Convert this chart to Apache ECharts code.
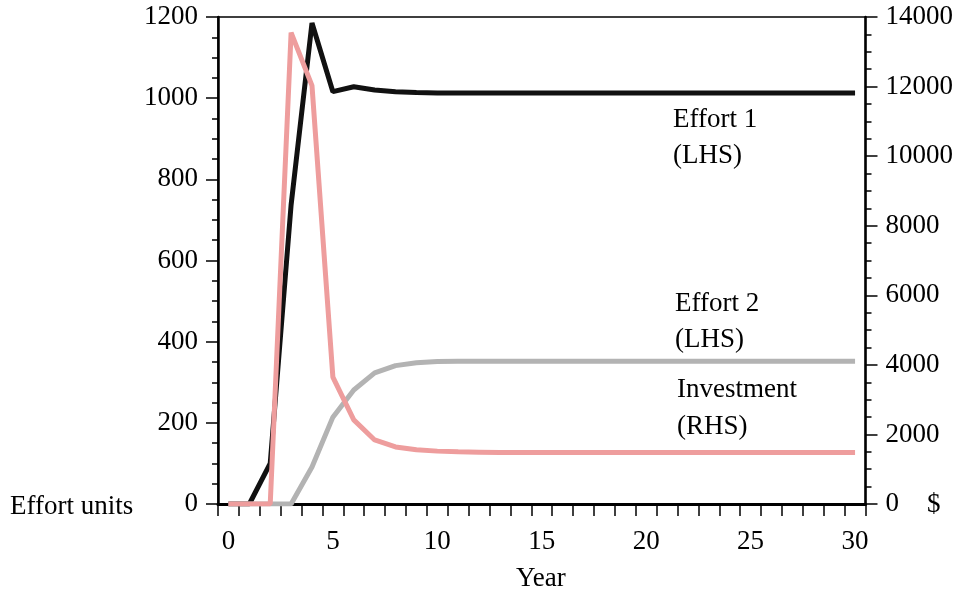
<!DOCTYPE html>
<html>
<head>
<meta charset="utf-8">
<script src="https://cdn.jsdelivr.net/npm/echarts@6/dist/echarts.min.js"></script>
<style>
  html, body { margin: 0; padding: 0; background: #fff; }
  #chart { width: 956px; height: 593px; }
</style>
</head>
<body>
<div id="chart"></div>
<script>
  // years 0..30 on a category axis
  const years = ['0','1','2','3','4','5','6','7','8','9','10','11','12','13','14','15',
    '16','17','18','19','20','21','22','23','24','25','26','27','28','29','30']

  // Effort 1 (LHS)
  const effort1 = [0, 0, 100, 737, 1185, 1016, 1028, 1020, 1016, 1014, 1013,
    1013, 1013, 1013, 1013, 1013, 1013, 1013, 1013, 1013, 1013,
    1013, 1013, 1013, 1013, 1013, 1013, 1013, 1013, 1013, 1013]

  // Effort 2 (LHS)
  const effort2 = [0, 0, 0, 0, 91, 214, 281, 323, 341, 348, 351,
    352, 352, 352, 352, 352, 352, 352, 352, 352, 352,
    352, 352, 352, 352, 352, 352, 352, 352, 352, 352]

  // Investment (RHS, $)
  const investment = [0, 0, 0, 13550, 12025, 3650, 2417, 1841, 1640, 1560, 1520,
    1500, 1490, 1480, 1480, 1480, 1480, 1480, 1480, 1480, 1480,
    1480, 1480, 1480, 1480, 1480, 1480, 1480, 1480, 1480, 1480]

  const font = 'Liberation Serif'
  const fs = 27

  let chart = echarts.init(document.getElementById('chart'))

  const yAxisBase = (max, interval, pos) => ({
    type: 'value',
    position: pos,
    min: 0,
    max: max,
    interval: interval,
    splitLine: { show: false },
    axisLine: { show: true, lineStyle: { color: '#000', width: 2.5 } },
    axisTick: { show: true, inside: false, length: 12, lineStyle: { color: '#000', width: 1.5 } },
    minorTick: { show: true, splitNumber: 4, length: 6, lineStyle: { color: '#000', width: 1.5 } },
    axisLabel: { color: '#000', fontFamily: font, fontSize: fs, margin: 20, formatter: v => String(v) }
  })

  const note = (text, x, y) => ({
    type: 'text', left: x, top: y - fs / 2,
    style: { text: text, font: fs + 'px ' + font, fill: '#000' }
  })

  let option = {
    animation: false,
    backgroundColor: '#fff',
    grid: {
      left: 218, right: 90, top: 17, bottom: 89,
      show: true, borderColor: '#000', borderWidth: 1.5
    },
    xAxis: {
      type: 'category',
      data: years,
      boundaryGap: true,
      axisLine: { show: true, lineStyle: { color: '#000', width: 3 } },
      axisTick: { show: true, interval: 0, alignWithLabel: false, inside: false, length: 12,
        lineStyle: { color: '#000', width: 1.5 } },
      axisLabel: { interval: 4, color: '#000', fontFamily: font, fontSize: fs, margin: 24 },
      splitLine: { show: false }
    },
    yAxis: [
      yAxisBase(1200, 200, 'left'),
      yAxisBase(14000, 2000, 'right')
    ],
    series: [
      {
        name: 'Effort 1', type: 'line', data: effort1, yAxisIndex: 0,
        symbol: 'none', z: 2,
        lineStyle: { color: '#111111', width: 5 }
      },
      {
        name: 'Effort 2', type: 'line', data: effort2, yAxisIndex: 0,
        symbol: 'none', z: 3,
        lineStyle: { color: '#B3B3B3', width: 5 }
      },
      {
        name: 'Investment', type: 'line', data: investment, yAxisIndex: 1,
        symbol: 'none', z: 4,
        lineStyle: { color: '#EE9D9D', width: 5 }
      }
    ],
    graphic: [
      note('Effort 1', 673, 120),
      note('(LHS)', 673, 156),
      note('Effort 2', 675, 304),
      note('(LHS)', 675, 340),
      note('Investment', 677, 390),
      note('(RHS)', 677, 427),
      note('Effort units', 10, 507),
      note('$', 927, 505),
      note('Year', 516, 579)
    ]
  }

  chart.setOption(option)
</script>
</body>
</html>
